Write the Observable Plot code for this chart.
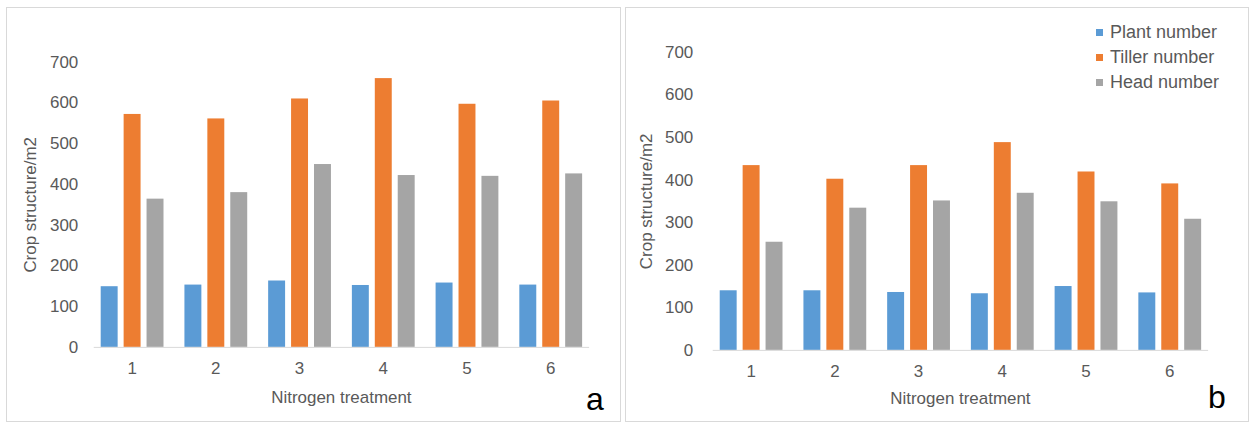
<!DOCTYPE html>
<html><head><meta charset="utf-8">
<script src="https://cdn.jsdelivr.net/npm/d3@7"></script>
<script src="https://cdn.jsdelivr.net/npm/@observablehq/plot@0.6"></script>
<style>
body{margin:0;background:#fff;width:1251px;height:425px;position:relative;overflow:hidden;font-family:"Liberation Sans",Arial,sans-serif;}
.panel{position:absolute;top:7px;height:415px;border:1px solid #d9d9d9;box-sizing:border-box;overflow:hidden;}
.panel svg{position:absolute;left:0px;top:-1px;}
.tag{position:absolute;font-size:32px;color:#000;line-height:1;}
.legend{position:absolute;font-size:18px;color:#595959;line-height:25px;}
.legend .sw{display:inline-block;width:7px;height:7px;margin-right:7px;vertical-align:middle;position:relative;top:-1px;}
</style></head>
<body>
<div id="pa" class="panel" style="left:6px;width:615px"></div>
<div id="pb" class="panel" style="left:625px;width:624px"></div>
<script>
const treatments = ["1", "2", "3", "4", "5", "6"];
const seriesNames = ["Plant number", "Tiller number", "Head number"];
// Panel a
const plantA = [149, 153, 163, 152, 158, 153];
const tillerA = [572, 561, 610, 660, 597, 605];
const headA = [364, 380, 449, 422, 420, 426];
// Panel b
const plantB = [140, 140, 136, 133, 150, 135];
const tillerB = [434, 402, 434, 488, 419, 391];
const headB = [254, 334, 351, 369, 349, 308];
const yTicks = [0, 100, 200, 300, 400, 500, 600, 700];
const yLabel = "Crop structure/m2";
const xLabel = "Nitrogen treatment";
const palette = ["#5B9BD5", "#ED7D31", "#A5A5A5"];

function table(plant, tiller, head) {
  const rows = [];
  const vals = [plant, tiller, head];
  treatments.forEach((t, i) => seriesNames.forEach((s, j) => rows.push({t, s, v: vals[j][i]})));
  return rows;
}

function chart(data, opts, withBase) {
  const marks = [
    Plot.barY(data, {fx: "t", x: "s", y: "v", fill: "s"}),
    Plot.axisY({ticks: yTicks, tickSize: 0, tickPadding: opts.tp, label: yLabel, labelAnchor: "center", labelArrow: "none", labelOffset: opts.lo}),
    Plot.axisFx({anchor: "bottom", tickSize: 0, tickPadding: 15, label: xLabel, labelAnchor: "center", labelArrow: "none", labelOffset: opts.xlo})
  ];
  if (withBase) marks.push(Plot.frame({anchor: "bottom", stroke: "#d9d9d9", facet: "super"}));
  else marks.push(Plot.ruleY([0], {stroke: "#d9d9d9", insetLeft: -5, insetRight: -5}));
  return Plot.plot({
    width: opts.width, height: opts.height,
    marginLeft: opts.ml, marginRight: opts.mr, marginTop: opts.mt, marginBottom: opts.mb,
    style: {fontSize: "17px", fontFamily: "'Liberation Sans', Arial, sans-serif", color: "#595959", background: "transparent"},
    fx: {domain: treatments, padding: 0.1},
    x: {domain: seriesNames, padding: 0.28, axis: null},
    y: {domain: [0, 700]},
    color: {domain: seriesNames, range: palette},
    marks
  });
}
function safeChart(data, opts) {
  try { return chart(data, opts, true); } catch (e) { console.log(e.message); return chart(data, opts, false); }
}

document.getElementById("pa").append(safeChart(table(plantA, tillerA, headA), {width: 615, height: 415, ml: 86, mr: 32, mt: 55, mb: 74, tp: 16, lo: 70, xlo: 56}));
document.getElementById("pb").append(safeChart(table(plantB, tillerB, headB), {width: 624, height: 415, ml: 87, mr: 41, mt: 45, mb: 71, tp: 20, lo: 73, xlo: 54}));

// tags
const ta = document.createElement("div"); ta.className = "tag"; ta.textContent = "a"; ta.style.left = "586px"; ta.style.top = "383px"; document.body.append(ta);
const tb = document.createElement("div"); tb.className = "tag"; tb.textContent = "b"; tb.style.left = "1208px"; tb.style.top = "381px"; document.body.append(tb);

// legend
const lg = document.createElement("div"); lg.className = "legend"; lg.style.left = "1096px"; lg.style.top = "20px";
seriesNames.forEach((s, i) => {
  const row = document.createElement("div");
  const sw = document.createElement("span"); sw.className = "sw"; sw.style.background = palette[i];
  row.append(sw, document.createTextNode(s));
  lg.append(row);
});
document.body.append(lg);
</script>
</body></html>
